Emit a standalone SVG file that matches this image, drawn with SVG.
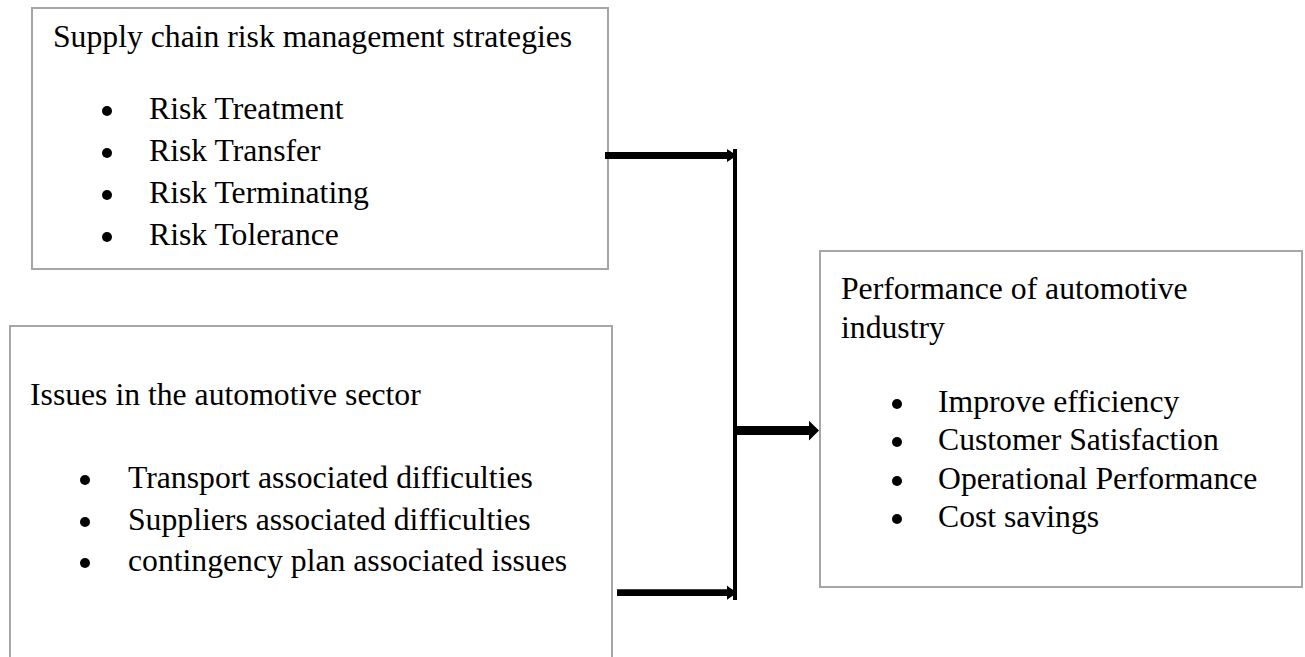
<svg xmlns="http://www.w3.org/2000/svg" width="1305" height="657" viewBox="0 0 1305 657">
  <style>
    .box { fill: #ffffff; stroke: #a6a6a6; stroke-width: 2; }
    .txt { font-family: "Liberation Serif", "Times New Roman", serif; font-size: 31.7px; fill: #000000; }
    .dot { fill: #000000; }
    .arrow { fill: #000000; }
  </style>
  <rect width="1305" height="657" fill="#ffffff"/>

  <!-- Strategies box -->
  <g id="strategies">
    <rect class="box" x="32" y="8" width="576" height="261"/>
    <text class="txt" x="53" y="47">Supply chain risk management strategies</text>
    <circle class="dot" cx="107" cy="111" r="5"/>
    <text class="txt" x="149" y="119">Risk Treatment</text>
    <circle class="dot" cx="107" cy="153" r="5"/>
    <text class="txt" x="149" y="161">Risk Transfer</text>
    <circle class="dot" cx="107" cy="195" r="5"/>
    <text class="txt" x="149" y="203">Risk Terminating</text>
    <circle class="dot" cx="107" cy="237" r="5"/>
    <text class="txt" x="149" y="245">Risk Tolerance</text>
  </g>

  <!-- Issues box (runs past the bottom edge) -->
  <g id="issues">
    <rect class="box" x="10" y="326" width="602" height="360"/>
    <text class="txt" x="30" y="405">Issues in the automotive sector</text>
    <circle class="dot" cx="85" cy="480" r="5"/>
    <text class="txt" x="128" y="488">Transport associated difficulties</text>
    <circle class="dot" cx="85" cy="522" r="5"/>
    <text class="txt" x="128" y="530">Suppliers associated difficulties</text>
    <circle class="dot" cx="85" cy="563" r="5"/>
    <text class="txt" x="128" y="571">contingency plan associated issues</text>
  </g>

  <!-- Performance box -->
  <g id="performance">
    <rect class="box" x="820" y="251" width="482" height="336"/>
    <text class="txt" x="841" y="299">Performance of automotive</text>
    <text class="txt" x="841" y="338">industry</text>
    <circle class="dot" cx="897" cy="404" r="5"/>
    <text class="txt" x="938" y="412">Improve efficiency</text>
    <circle class="dot" cx="897" cy="442" r="5"/>
    <text class="txt" x="938" y="450">Customer Satisfaction</text>
    <circle class="dot" cx="897" cy="481" r="5"/>
    <text class="txt" x="938" y="489">Operational Performance</text>
    <circle class="dot" cx="897" cy="519" r="5"/>
    <text class="txt" x="938" y="527">Cost savings</text>
  </g>

  <!-- Connectors: two block arrows into a vertical bar, one out to the right -->
  <g id="connectors">
    <path class="arrow" d="M605,152 H727 V149 L737,155.5 L727,162 V159 H605 Z"/>
    <path class="arrow" d="M617,589.3 H727 V585.7 L737,592.7 L727,599.7 V596 H617 Z"/>
    <rect class="arrow" x="733" y="149" width="4" height="451"/>
    <path class="arrow" d="M735,426 H809 V420.7 L819,430.5 L809,440.5 V435 H735 Z"/>
  </g>
</svg>
